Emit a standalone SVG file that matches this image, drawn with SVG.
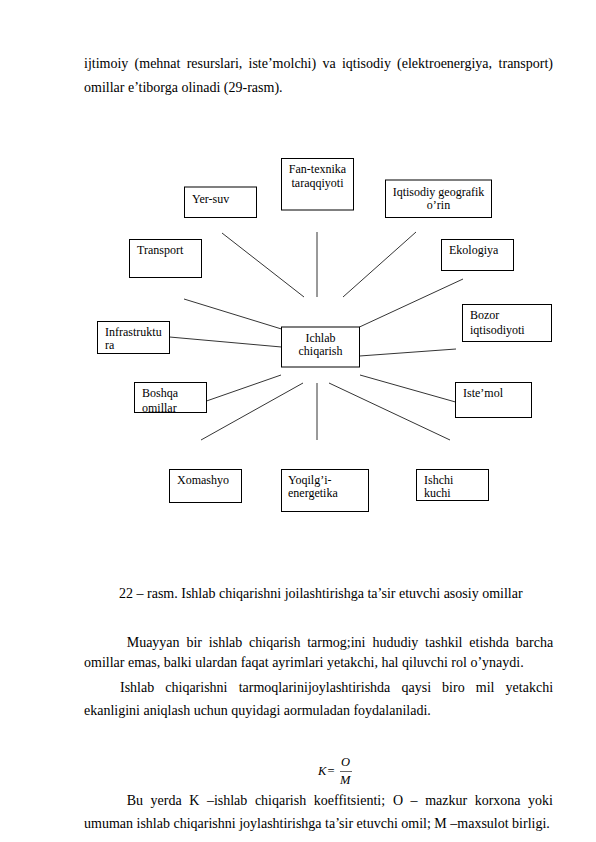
<svg xmlns="http://www.w3.org/2000/svg" width="596" height="842" viewBox="0 0 596 842">
<style>
.t{font-family:"Liberation Serif","Times New Roman",serif;font-size:14px;fill:#000}
.n{font-family:"Liberation Serif","Times New Roman",serif;font-size:12px;fill:#000}
.c{text-anchor:middle}
.b{fill:#fff;stroke:#000;stroke-width:1}
.l{stroke:#000;stroke-width:0.8;fill:none}
.f{font-family:"Liberation Serif","Times New Roman",serif;font-size:12.5px;font-style:italic;fill:#000}
</style>
<defs>
<clipPath id="cb"><rect x="134.5" y="382.5" width="72" height="30"/></clipPath>
</defs>
<rect width="596" height="842" fill="#fff"/>
<g id="text-top">
<text class="t" y="68"><tspan x="84">ijtimoiy</tspan><tspan x="134.6">(mehnat</tspan><tspan x="186.7">resurslari,</tspan><tspan x="248.5">iste’molchi)</tspan><tspan x="322.4">va</tspan><tspan x="341.9">iqtisodiy</tspan><tspan x="397.1">(elektroenergiya,</tspan><tspan x="498.6">transport)</tspan></text>
<text class="t" x="84" y="92">omillar e’tiborga olinadi (29-rasm).</text>
</g>
<g id="connectors">
<line class="l" x1="222" y1="233" x2="304" y2="297"/>
<line class="l" x1="317" y1="232" x2="317" y2="297"/>
<line class="l" x1="416" y1="232" x2="343" y2="297"/>
<line class="l" x1="463" y1="279" x2="359.5" y2="327"/>
<line class="l" x1="184" y1="299" x2="281.5" y2="329"/>
<line class="l" x1="169.5" y1="337" x2="281.5" y2="347"/>
<line class="l" x1="359.5" y1="356" x2="456" y2="349"/>
<line class="l" x1="206.5" y1="401" x2="281" y2="375"/>
<line class="l" x1="360" y1="375" x2="455.5" y2="402"/>
<line class="l" x1="303" y1="383" x2="201" y2="440"/>
<line class="l" x1="317" y1="383" x2="317" y2="440"/>
<line class="l" x1="329" y1="383" x2="450" y2="440"/>
</g>
<g id="fan-texnika"><rect class="b" x="281.5" y="158.5" width="72" height="51.5"/><text class="n c" x="317.5" y="173">Fan-texnika</text><text class="n c" x="317.5" y="186.5">taraqqiyoti</text></g>
<g id="yer-suv"><rect class="b" x="184.5" y="187" width="72" height="30.5"/><text class="n" x="192" y="203">Yer-suv</text></g>
<g id="iqtisodiy"><rect class="b" x="385.5" y="180" width="106" height="37.5"/><text class="n c" x="438.5" y="196">Iqtisodiy geografik</text><text class="n c" x="438.5" y="208.5">o’rin</text></g>
<g id="transport"><rect class="b" x="129.5" y="239.5" width="72" height="38"/><text class="n" x="137" y="254">Transport</text></g>
<g id="ekologiya"><rect class="b" x="441.5" y="239.5" width="72" height="31"/><text class="n" x="449" y="254">Ekologiya</text></g>
<g id="infrastruktura"><rect class="b" x="97.5" y="321.5" width="72" height="32"/><text class="n" x="105" y="335.5">Infrastruktu</text><text class="n" x="105" y="348.5">ra</text></g>
<g id="ichlab"><rect class="b" x="281.5" y="327" width="78" height="40"/><text class="n c" x="320.5" y="342">Ichlab</text><text class="n c" x="320.5" y="355">chiqarish</text></g>
<g id="bozor"><rect class="b" x="462.5" y="304.5" width="89" height="37"/><text class="n" x="470" y="318.5">Bozor</text><text class="n" x="470" y="334">iqtisodiyoti</text></g>
<g id="boshqa"><rect class="b" x="134.5" y="382.5" width="72" height="30"/><g clip-path="url(#cb)"><text class="n" x="142" y="397">Boshqa</text><text class="n" x="142" y="411.5">omillar</text></g><rect x="134.5" y="382.5" width="72" height="30" fill="none" stroke="#000"/></g>
<g id="istemol"><rect class="b" x="455.5" y="382.5" width="76" height="35"/><text class="n" x="463" y="397">Iste’mol</text></g>
<g id="xomashyo"><rect class="b" x="169.5" y="469.5" width="72" height="33"/><text class="n" x="177" y="484">Xomashyo</text></g>
<g id="yoqilgi"><rect class="b" x="281.5" y="469.5" width="87" height="42"/><text class="n" x="288" y="484">Yoqilg’i-</text><text class="n" x="288" y="496.5">energetika</text></g>
<g id="ishchi"><rect class="b" x="416.5" y="469.5" width="72" height="31"/><text class="n" x="424" y="484">Ishchi</text><text class="n" x="424" y="496.5">kuchi</text></g>
<g id="text-bottom">
<text class="t" x="119" y="598">22 – rasm. Ishlab chiqarishni joilashtirishga ta’sir etuvchi asosiy omillar</text>
<text class="t" y="646.5"><tspan x="126.7">Muayyan</tspan><tspan x="186.4">bir</tspan><tspan x="208.8">ishlab</tspan><tspan x="249.1">chiqarish</tspan><tspan x="307.2">tarmog;ini</tspan><tspan x="372.4">hududiy</tspan><tspan x="425.1">tashkil</tspan><tspan x="469.3">etishda</tspan><tspan x="515.8">barcha</tspan></text>
<text class="t" x="84" y="667">omillar emas, balki ulardan faqat ayrimlari yetakchi, hal qiluvchi rol o’ynaydi.</text>
<text class="t" y="691.5"><tspan x="120">Ishlab</tspan><tspan x="165.3">chiqarishni</tspan><tspan x="238.7">tarmoqlarinijoylashtirishda</tspan><tspan x="401.5">qaysi</tspan><tspan x="442.1">biro</tspan><tspan x="475.8">mil</tspan><tspan x="505.6">yetakchi</tspan></text>
<text class="t" x="84" y="715">ekanligini aniqlash uchun quyidagi aormuladan foydalaniladi.</text>
<text class="f" x="318" y="775">K</text>
<text class="f" x="327.5" y="775" style="font-style:normal">=</text>
<text class="f" x="341" y="766">O</text>
<line x1="340" y1="771.5" x2="352" y2="771.5" stroke="#000" stroke-width="0.6"/>
<text class="f" x="340" y="783.5">M</text>
<text class="t" y="805"><tspan x="126.7">Bu</tspan><tspan x="150.6">yerda</tspan><tspan x="189.3">K</tspan><tspan x="206.9">–ishlab</tspan><tspan x="254.9">chiqarish</tspan><tspan x="313.8">koeffitsienti;</tspan><tspan x="392.9">O</tspan><tspan x="410.6">–</tspan><tspan x="425.2">mazkur</tspan><tspan x="474.7">korxona</tspan><tspan x="528.1">yoki</tspan></text>
<text class="t" x="84" y="828">umuman ishlab chiqarishni joylashtirishga ta’sir etuvchi omil; M –maxsulot birligi.</text>
</g>
</svg>
